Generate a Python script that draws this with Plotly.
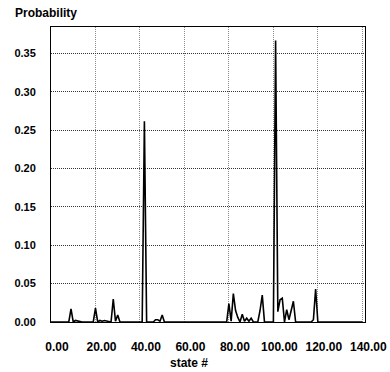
import plotly.graph_objects as go

# state numbers 0..140
states = list(range(0, 141))

# non-zero probabilities (state -> probability)
peak_states = [9, 11, 12, 20, 22, 23, 24, 25, 28, 29, 30, 42, 47, 48, 49, 50,
               80, 81, 82, 83, 84, 86, 87, 88, 89, 90, 94, 95,
               101, 102, 103, 104, 106, 107, 108, 109, 118, 119]
peak_values = [0.017, 0.002, 0.001, 0.018, 0.002, 0.001, 0.002, 0.001, 0.030, 0.001, 0.009, 0.2615, 0.003, 0.003, 0.001, 0.009,
               0.024, 0.001, 0.037, 0.015, 0.006, 0.010, 0.001, 0.005, 0.001, 0.005, 0.015, 0.035,
               0.367, 0.0135, 0.029, 0.031, 0.016, 0.003, 0.015, 0.027, 0.003, 0.043]

x_ticks = [0, 20, 40, 60, 80, 100, 120, 140]
x_tick_labels = ["0.00", "20.00", "40.00", "60.00", "80.00", "100.00", "120.00", "140.00"]
y_ticks = [0, 0.05, 0.10, 0.15, 0.20, 0.25, 0.30, 0.35]
y_tick_labels = ["0.00", "0.05", "0.10", "0.15", "0.20", "0.25", "0.30", "0.35"]

lookup = dict(zip(peak_states, peak_values))
probabilities = [lookup.get(s, 0.0) for s in states]

FONT = "Liberation Sans, Arial, sans-serif"
W, H = 390, 372

fig = go.Figure()
fig.add_trace(go.Scatter(
    x=states, y=probabilities, mode="lines",
    line=dict(color="black", width=1.6),
    hoverinfo="x+y", showlegend=False,
))

fig.update_layout(
    width=W, height=H,
    margin=dict(l=51, r=25, t=27, b=50, autoexpand=False),
    paper_bgcolor="white", plot_bgcolor="white",
    font=dict(family=FONT, color="black"),
    title=dict(text="<b>Probability</b>", font=dict(size=12, family=FONT, color="black"),
               xref="container", x=15 / W, xanchor="left",
               yref="container", y=1 - 13 / H, yanchor="middle", automargin=False),
    annotations=[dict(text="<b>state #</b>", xref="paper", yref="paper",
                      x=(189 - 51) / 314, y=-(363 - 322) / 295, xanchor="center", yanchor="middle",
                      showarrow=False, font=dict(size=12, family=FONT, color="black"))],
)

fig.update_xaxes(
    range=[0, 141.2], tickvals=x_ticks, ticktext=["<b>%s</b>" % t for t in x_tick_labels],
    tickfont=dict(size=12, family=FONT, color="black"),
    showgrid=True, gridcolor="#8a8a8a", griddash="1px,1px", gridwidth=1,
    showline=True, linecolor="black", linewidth=1, mirror=True,
    ticks="", ticklabelstandoff=14, ticklabelshift=6, zeroline=False, automargin=False,
)
fig.update_yaxes(
    range=[0, 0.3845], tickvals=y_ticks, ticktext=["<b>%s</b>" % t for t in y_tick_labels],
    tickfont=dict(size=11, family=FONT, color="black"),
    showgrid=True, gridcolor="#333333", griddash="1px,1px", gridwidth=1,
    showline=True, linecolor="black", linewidth=1, mirror=True,
    ticks="", ticklabelstandoff=12, zeroline=False, automargin=False,
)

fig.write_html("out.html", config={"displayModeBar": False},
               post_script="document.body.style.margin='0px';document.body.style.overflow='hidden';")
